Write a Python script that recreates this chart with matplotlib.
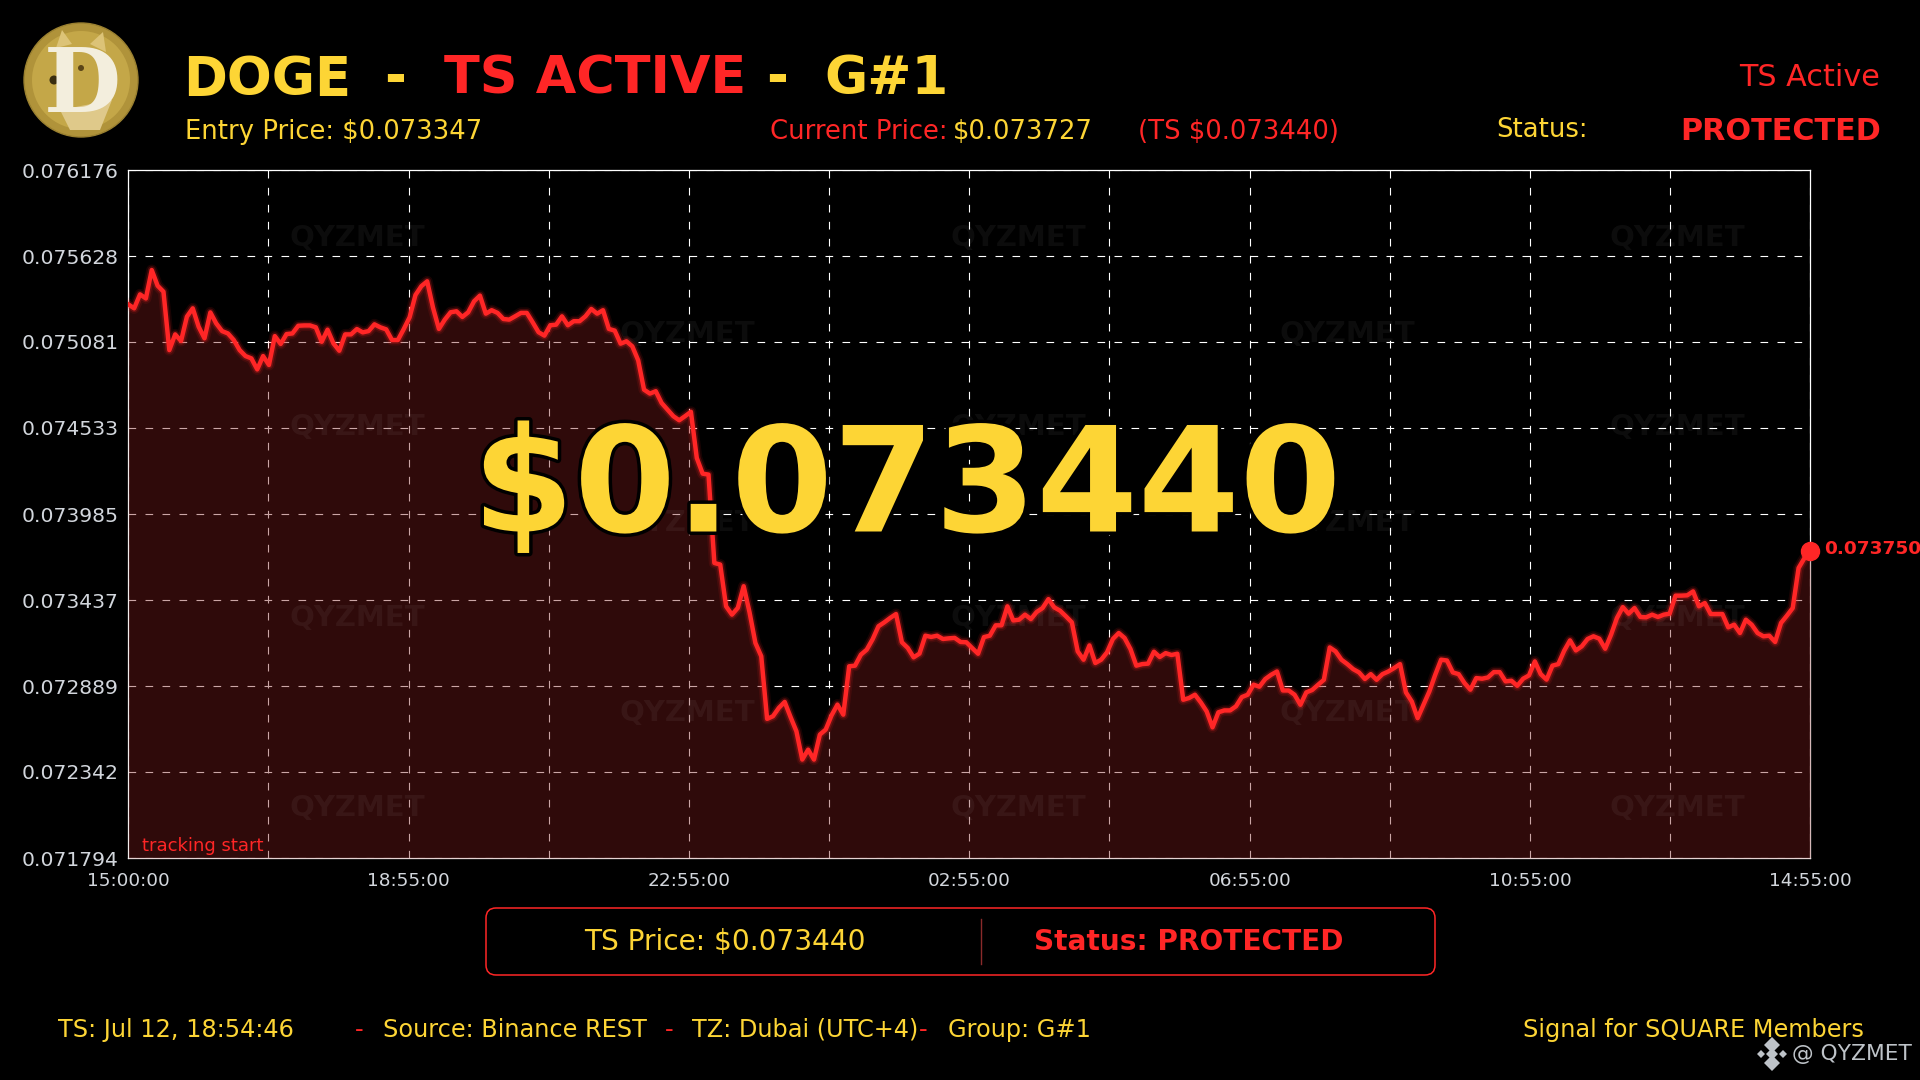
import matplotlib
matplotlib.use("Agg")
import matplotlib.pyplot as plt
import matplotlib.patheffects as pe
from matplotlib.patches import Circle, FancyBboxPatch, Polygon
import numpy as np

# price per 5 min bar, in millionths of a dollar
price_micro = [
    75320, 75295, 75384, 75358, 75539, 75439, 75401, 75029, 75129, 75087,
    75242, 75295, 75178, 75104, 75269, 75199, 75150, 75135, 75093, 75029,
    74991, 74976, 74906, 74991, 74934, 75118, 75068, 75131, 75135, 75184,
    75186, 75186, 75174, 75082, 75159, 75072, 75025, 75129, 75129, 75163,
    75142, 75150, 75193, 75174, 75161, 75093, 75093, 75163, 75238, 75380,
    75436, 75467, 75298, 75164, 75223, 75270, 75276, 75240, 75270, 75340,
    75376, 75261, 75283, 75266, 75227, 75223, 75244, 75266, 75266, 75206,
    75143, 75121, 75187, 75191, 75244, 75187, 75213, 75213, 75244, 75291,
    75261, 75283, 75164, 75153, 75070, 75085, 75053, 74964, 74777, 74752,
    74767, 74692, 74650, 74608, 74582, 74608, 74636, 74342, 74242, 74236,
    73673, 73663, 73397, 73344, 73387, 73525, 73359, 73164, 73079, 72680,
    72697, 72750, 72788, 72692, 72601, 72421, 72484, 72421, 72580, 72612,
    72703, 72771, 72707, 73015, 73019, 73089, 73121, 73187, 73270, 73295,
    73323, 73348, 73168, 73132, 73072, 73096, 73210, 73202, 73210, 73189,
    73193, 73196, 73170, 73168, 73131, 73095, 73201, 73210, 73276, 73276,
    73397, 73307, 73312, 73344, 73316, 73361, 73386, 73443, 73390, 73369,
    73333, 73295, 73110, 73057, 73148, 73036, 73057, 73104, 73189, 73227,
    73195, 73125, 73019, 73029, 73032, 73108, 73074, 73099, 73087, 73095,
    72802, 72813, 72834, 72785, 72728, 72626, 72722, 72734, 72734, 72760,
    72819, 72834, 72898, 72885, 72934, 72961, 72982, 72861, 72861, 72834,
    72770, 72849, 72864, 72897, 72929, 73135, 73110, 73057, 73029, 72997,
    72976, 72934, 72965, 72929, 72965, 72982, 73004, 73029, 72849, 72791,
    72685, 72770, 72855, 72961, 73057, 73052, 72976, 72965, 72908, 72866,
    72940, 72936, 72944, 72978, 72978, 72919, 72923, 72891, 72936, 72957,
    73046, 72965, 72930, 73019, 73029, 73114, 73180, 73116, 73142, 73189,
    73206, 73191, 73127, 73216, 73322, 73392, 73350, 73386, 73329, 73327,
    73344, 73329, 73344, 73350, 73465, 73465, 73467, 73492, 73397, 73418,
    73348, 73348, 73348, 73263, 73280, 73227, 73312, 73280, 73227, 73206,
    73210, 73170, 73291, 73337, 73386, 73641, 73704, 73750,
]
y_ticks = ["0.071794", "0.072342", "0.072889", "0.073437", "0.073985",
           "0.074533", "0.075081", "0.075628", "0.076176"]
time_labels = ["15:00:00", "", "18:55:00", "", "22:55:00", "", "02:55:00",
               "", "06:55:00", "", "10:55:00", "", "14:55:00"]
watermark = "QYZMET"

RED = "#FF2626"
YEL = "#FDD535"
GRY = "#D2D6DC"

price = np.array(price_micro) / 1e6
x = np.arange(len(price))

fig = plt.figure(figsize=(19.2, 10.8), dpi=100, facecolor="black")
ax = fig.add_axes([128.3 / 1920, 1 - 858 / 1080, 1682 / 1920, 688 / 1080])
ax.set_facecolor("black")

# chart
ax.set_axisbelow(True)
ax.grid(True, color="white", lw=0.8, ls=(0, (6.9, 8.4)))
ax.fill_between(x, price, float(y_ticks[0]), color="#7B1A1A", alpha=0.39, lw=0, zorder=2.6)
ax.plot(x, price, color=RED, lw=8, alpha=0.10, zorder=3)
ax.plot(x, price, color=RED, lw=5.5, alpha=0.22, zorder=3)
ax.plot(x, price, color=RED, lw=3.2, zorder=3.2)
ax.plot(x[-1], price[-1], "o", color=RED, ms=13, clip_on=False, zorder=5)
ax.annotate("0.073750", (x[-1], price[-1]), xytext=(10, 1.5), textcoords="offset points",
            color=RED, fontsize=13.3, fontweight="bold", va="center", annotation_clip=False)

ax.set_xlim(0, 287)
ax.set_ylim(float(y_ticks[0]), float(y_ticks[-1]))
ax.set_xticks(np.linspace(0, 287, len(time_labels)))
ax.set_xticklabels(time_labels, color=GRY, fontsize=13.3)
ax.set_yticks([float(v) for v in y_ticks])
ax.set_yticklabels(y_ticks, color=GRY, fontsize=14.7)
ax.tick_params(axis="both", length=0)
ax.tick_params(axis="x", pad=10)
ax.tick_params(axis="y", pad=7)
for s in ax.spines.values():
    s.set_color("white")
    s.set_linewidth(0.9)

for fy in [0.901, 0.626, 0.349, 0.073]:
    for fx in [0.136, 0.529, 0.921]:
        ax.text(fx, fy, watermark, transform=ax.transAxes, color="white", alpha=0.05,
                fontsize=21, fontweight="bold", ha="center", va="center", zorder=2.8)
for fy in [0.762, 0.487, 0.211]:
    for fx in [0.3325, 0.725]:
        ax.text(fx, fy, watermark, transform=ax.transAxes, color="white", alpha=0.05,
                fontsize=21, fontweight="bold", ha="center", va="center", zorder=2.8)

# overlay in figure pixels for everything around the chart
ov = fig.add_axes([0, 0, 1, 1], zorder=10)
ov.set_xlim(0, 1920)
ov.set_ylim(1080, 0)
ov.axis("off")
ov.patch.set_alpha(0)


def put(px, py, s, color=YEL, size=18.6, weight="normal", ha="left"):
    return ov.text(px, py, s, color=color, fontsize=size, fontweight=weight, ha=ha, va="center")


# coin logo
ov.add_patch(Circle((81, 80), 57, fc="#B0933A", ec="#9A8030", lw=1))
ov.add_patch(Circle((81, 80), 49, fc="#C4A748", ec="none"))
ov.add_patch(Polygon([[56, 48], [62, 30], [72, 44]], fc="#DCC377", ec="none"))
ov.add_patch(Polygon([[90, 44], [103, 32], [106, 52]], fc="#DCC377", ec="none"))
ov.add_patch(Polygon([[60, 110], [112, 100], [100, 130], [70, 130]], fc="#DFC98A", ec="none"))
ov.text(82, 87, "D", family="DejaVu Serif", fontweight="bold", fontsize=64, color="#F3EEDD",
        ha="center", va="center")
ov.add_patch(Circle((54, 80), 4.5, fc="#3A2E10", ec="none"))
ov.add_patch(Circle((81, 68), 3, fc="#5A4518", ec="none"))

# header
put(183, 79.5, "DOGE", size=38, weight="bold")
put(384, 79.5, "-", size=38, weight="bold")
put(444, 79.5, "TS ACTIVE", color=RED, size=37.7, weight="bold")
put(766, 79.5, "-", size=38, weight="bold")
put(824, 79.5, "G#1", size=38, weight="bold")
put(185, 132, "Entry Price: $0.073347")
put(770, 132, "Current Price:", color=RED)
put(953, 132, "$0.073727")
put(1138, 132, "(TS $0.073440)", color=RED)
put(1496, 130, "Status:")
put(1881, 131, "PROTECTED", color=RED, size=21.8, weight="bold", ha="right")
put(1880, 77, "TS Active", color=RED, size=21.8, ha="right")

# big price
big = put(907, 491, "$0.073440", size=105.2, weight="bold", ha="center")
big.set_path_effects([pe.withStroke(linewidth=5, foreground="black")])
put(142, 846, "tracking start", color=RED, size=13)

# status box
ov.add_patch(FancyBboxPatch((486, 908), 949, 67, boxstyle="round,pad=0,rounding_size=10",
                            fc="black", ec=RED, lw=1.1))
ov.plot([981, 981], [919, 964], color="#8A2A2A", lw=1)
put(725, 942, "TS Price: $0.073440", size=20.2, ha="center")
put(1189, 942, "Status: PROTECTED", color=RED, size=20.2, weight="bold", ha="center")

# footer
put(58, 1030, "TS: Jul 12, 18:54:46", size=17.3)
put(359, 1030, "-", color=RED, size=17.3, ha="center")
put(383, 1030, "Source: Binance REST", size=17.3)
put(669, 1030, "-", color=RED, size=17.3, ha="center")
put(692, 1030, "TZ: Dubai (UTC+4)", size=17.3)
put(923, 1030, "-", color=RED, size=17.3, ha="center")
put(948, 1030, "Group: G#1", size=17.3)
put(1864, 1030, "Signal for SQUARE Members", size=17.3, ha="right")
put(1912, 1054, "@ QYZMET", color="#BEC3C8", size=15.7, ha="right")

# small exchange icon next to the handle
for dx, dy, ms in [(0, 0, 6), (-11, 0, 4), (11, 0, 4), (0, -9, 8), (0, 9, 8)]:
    ov.plot(1772 + dx, 1054 + dy, "D", color="#BEC3C8", ms=ms, mew=0)

fig.savefig("out.png", dpi=100, facecolor="black")
